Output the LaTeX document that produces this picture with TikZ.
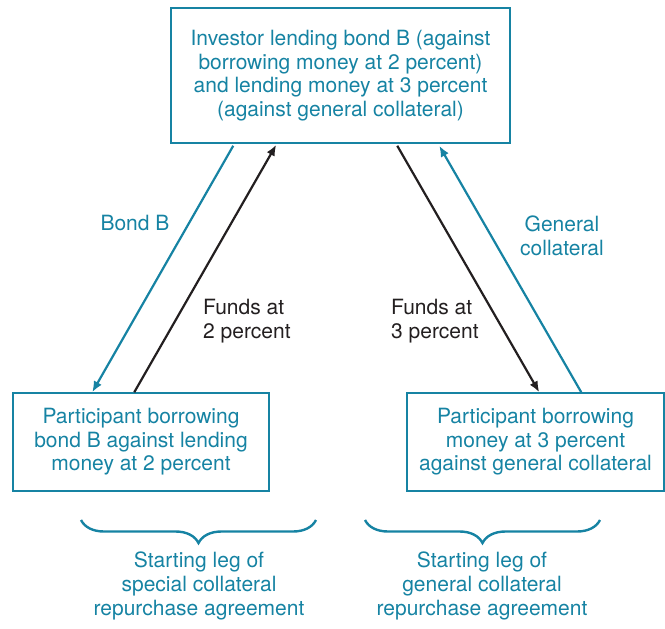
\documentclass[tikz,border=0pt]{standalone}
\usepackage{fontspec}
\setmainfont{TeX Gyre Heros}
\usetikzlibrary{arrows.meta,decorations.pathreplacing}
\definecolor{teal}{RGB}{22,131,163}
\definecolor{ink}{RGB}{35,31,32}
\tikzset{
  box/.style={draw=teal, line width=1.5pt, text=teal, align=center, inner sep=0pt,
    font=\fontsize{21}{23.6}\selectfont},
  lbl/.style={font=\fontsize{21}{23.6}\selectfont, inner sep=0pt},
  flow/.style={line width=2.2pt, -{Latex[length=11pt,width=9pt]}},
  brc/.style={draw=teal, line width=2.4pt, decorate, decoration={brace, mirror, amplitude=23pt}}
}
\begin{document}
\begin{tikzpicture}[x=1pt,y=-1pt]
\useasboundingbox (0,0) rectangle (665,629);
\node[box, minimum width=339pt, minimum height=135pt] (inv) at (340.5,75.5)
  {Investor lending bond B (against\\borrowing money at 2 percent)\\and lending money at 3 percent\\(against general collateral)};
\node[box, minimum width=256pt, minimum height=98pt] (pl) at (141,442)
  {Participant borrowing\\bond B against lending\\money at 2 percent};
\node[box, minimum width=257pt, minimum height=98pt] (pr) at (535.5,442)
  {Participant borrowing\\money at 3 percent\\against general collateral};

\coordinate (b1) at ([xshift=63pt,yshift=-2pt]inv.south west);
\coordinate (b2) at ([xshift=80pt]pl.north west);
\coordinate (f1) at ([xshift=122pt]pl.north west);
\coordinate (f2) at ([xshift=106pt,yshift=-1pt]inv.south west);
\coordinate (g1) at ([xshift=227pt,yshift=-2pt]inv.south west);
\coordinate (g2) at ([xshift=133pt]pr.north west);
\coordinate (c1) at ([xshift=175pt]pr.north west);
\coordinate (c2) at ([xshift=269pt,yshift=-2pt]inv.south west);

\draw[flow, teal] (b1) -- (b2);
\draw[flow, ink] (f1) -- (f2);
\draw[flow, ink] (g1) -- (g2);
\draw[flow, teal] (c1) -- (c2);

\node[lbl, text=teal, anchor=base] (lb) at (135,230) {Bond B};
\node[lbl, text=ink, align=left, anchor=base west] (lf2) at (203,338) {Funds at\\2 percent};
\node[lbl, text=ink, align=left, anchor=base west] (lf3) at (391,338) {Funds at\\3 percent};
\node[lbl, text=teal, align=center, anchor=base] (lg) at (562,255) {General\\collateral};

\coordinate (bl1) at (81,520);
\coordinate (bl2) at (316,520);
\coordinate (br1) at (365,520);
\coordinate (br2) at (600,520);
\draw[brc] (bl1) -- (bl2);
\draw[brc] (br1) -- (br2);

\node[lbl, text=teal, align=center, anchor=base] (sl) at (199,615)
  {Starting leg of\\special collateral\\repurchase agreement};
\node[lbl, text=teal, align=center, anchor=base] (sr) at (482,615)
  {Starting leg of\\general collateral\\repurchase agreement};
\end{tikzpicture}
\end{document}
